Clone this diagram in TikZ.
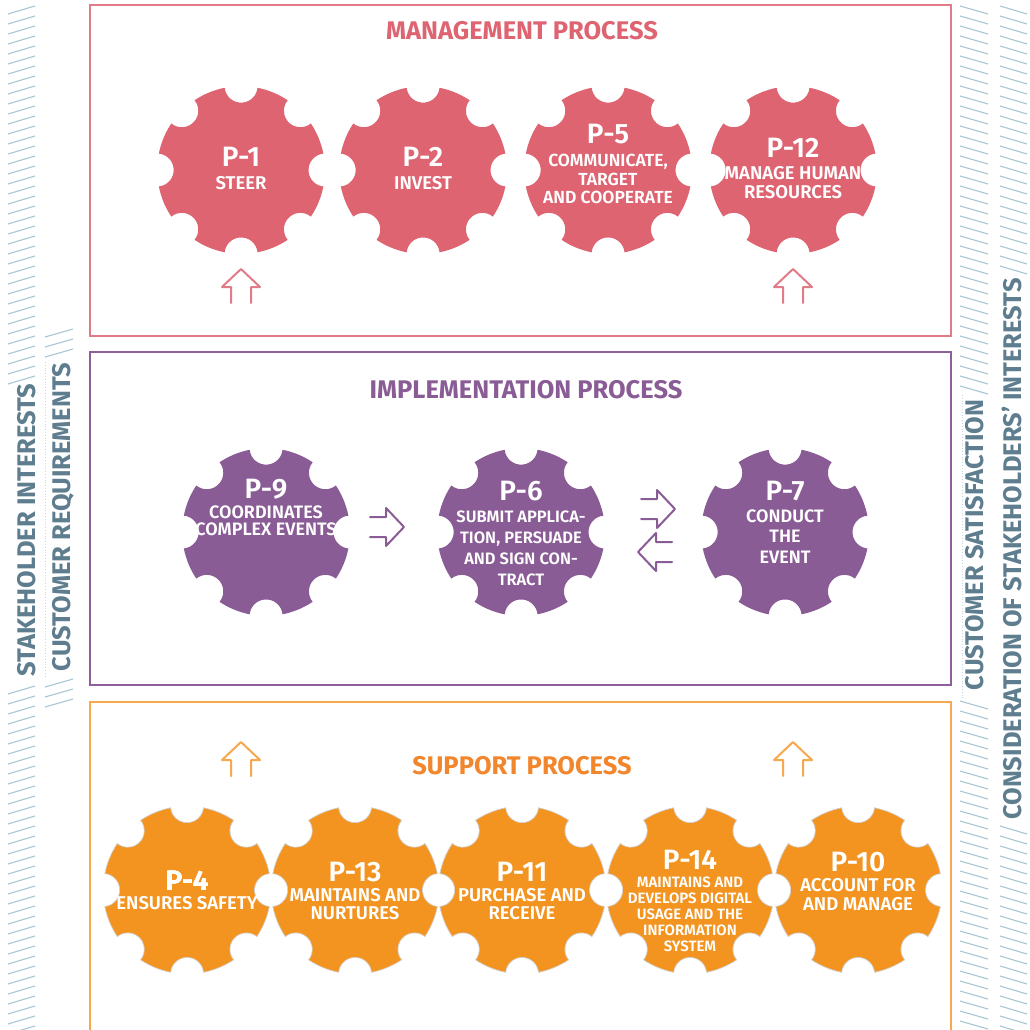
\documentclass[tikz,border=0pt]{standalone}
\usepackage{fontspec}
\setmainfont{Fira Sans}
\newfontfamily\gfont{Fira Sans SemiBold}
\definecolor{mgmt}{HTML}{DE6472}
\definecolor{mgmtline}{HTML}{E27B88}
\definecolor{impl}{HTML}{8A5C96}
\definecolor{implline}{HTML}{8E609B}
\definecolor{supp}{HTML}{F39420}
\definecolor{suppline}{HTML}{F5A84E}
\definecolor{supptitle}{HTML}{F2862C}
\definecolor{sidetext}{HTML}{5E7E8F}
\definecolor{hatch}{HTML}{A9C6D5}
\newcommand\gR{84}
\newcommand\gN{16.5}
\newcommand\gA{11.3}
\newcommand\mygear[3]{%
  \path[#3,shift={(#1,#2)}] ({\gA}:\gR)
    \foreach \t in {0,45,...,315}{
      arc[start angle={\t+\gA}, end angle={\t+45-\gA}, radius=\gR]
      arc[start angle={\t+45-90-\gA/2}, end angle={\t+45-270+\gA/2}, radius=\gN]
    } -- cycle;}
\tikzset{
  gnum/.style={text=white, font=\gfont\fontsize{28}{28}\selectfont, inner sep=0pt},
  gdesc/.style={text=white, font=\gfont\fontsize{18.5}{19}\selectfont, align=center, inner sep=0pt},
  ptitle/.style={font=\bfseries\fontsize{25.5}{27}\selectfont, inner sep=0pt},
  sidelabel/.style={font=\bfseries\fontsize{25.5}{27}\selectfont, text=sidetext, rotate=90, inner sep=0pt},
  hatchline/.style={draw=hatch, line width=1.1pt},
  procbox/.style={line width=1.3pt},
  openarrow/.pic={\draw[pic actions, line width=2pt, line join=round, line cap=round]
     (0,-10) -- (16,-10) -- (16,-19) -- (34,0) -- (16,19) -- (16,10) -- (0,10);}
}
\begin{document}
\begin{tikzpicture}[x=1pt,y=-1pt]
\useasboundingbox (0,0) rectangle (1030,1030);
\clip (0,0) rectangle (1030,1030);
\fill[white] (0,0) rectangle (1030,1030);

% side hatching
\foreach \y in {10,20,...,380} \draw[hatchline] (8,\y+4) -- (35,\y-4);
\foreach \y in {690,700,...,1030} \draw[hatchline] (8,\y+4) -- (35,\y-4);
\foreach \y in {333,343,353} \draw[hatchline] (45,\y+4) -- (73,\y-4);
\foreach \y in {683,693,703} \draw[hatchline] (45,\y+4) -- (73,\y-4);
\foreach \y in {10,20,...,390} \draw[hatchline] (960,\y-4) -- (988,\y+4);
\foreach \y in {705,715,...,1030} \draw[hatchline] (960,\y-4) -- (988,\y+4);
\foreach \y in {10,20,...,270} \draw[hatchline] (1000,\y-4) -- (1027,\y+4);
\foreach \y in {830,840,...,1030} \draw[hatchline] (1000,\y-4) -- (1027,\y+4);
\draw[hatch!70, dotted, line width=0.8pt] (45,362) -- (45,678);
\draw[hatch!70, dotted, line width=0.8pt] (962,395) -- (962,700);

\node[sidelabel] (sh) at (27,530) {STAKEHOLDER INTERESTS};
\node[sidelabel] (cr) at (63,517) {CUSTOMER REQUIREMENTS};
\node[sidelabel] (cs) at (975,545) {CUSTOMER SATISFACTION};
\node[sidelabel] (cons) at (1012,549) {CONSIDERATION OF STAKEHOLDERS’ INTERESTS};

% boxes
\draw[procbox, draw=mgmtline] (90,5) rectangle (951,336);
\draw[procbox, draw=implline] (90,352) rectangle (951,685);
\draw[procbox, draw=suppline] (90,702) rectangle (951,1045);

\node[ptitle, text=mgmt] (tm) at (522,31) {MANAGEMENT PROCESS};
\node[ptitle, text=impl] (ti) at (526,390) {IMPLEMENTATION PROCESS};
\node[ptitle, text=supptitle] (ts) at (522,766) {SUPPORT PROCESS};

% management gears
\mygear{241}{170}{fill=mgmt}
\mygear{423}{170}{fill=mgmt}
\mygear{608}{170}{fill=mgmt}
\mygear{793}{170}{fill=mgmt}
\node[gnum] (p1) at (241,157) {P-1};
\node[gdesc] (p1d) at (241,183) {STEER};
\node[gnum] (p2) at (423,157) {P-2};
\node[gdesc] (p2d) at (423,183) {INVEST};
\node[gnum] (p5) at (608,134) {P-5};
\node[gdesc, font=\gfont\fontsize{17.5}{18.5}\selectfont] (p5d) at (608,179) {COMMUNICATE,\\TARGET\\AND COOPERATE};
\node[gnum] (p12) at (793,148) {P-12};
\node[gdesc] (p12d) at (793,182.5) {MANAGE HUMAN\\RESOURCES};

\pic[draw=mgmtline, rotate=90] at (241,303) {openarrow};
\pic[draw=mgmtline, rotate=90] at (793,303) {openarrow};

% implementation gears
\mygear{266}{532}{fill=impl}
\mygear{521}{532}{fill=impl}
\mygear{785}{532}{fill=impl}
\node[gnum] (p9) at (266,489) {P-9};
\node[gdesc, font=\gfont\fontsize{18}{16.8}\selectfont] (p9d) at (266,521) {COORDINATES\\COMPLEX EVENTS};
\node[gnum] (p6) at (521,491) {P-6};
\node[gdesc, font=\gfont\fontsize{16.5}{21}\selectfont] (p6d) at (521,548) {SUBMIT APPLICA-\\TION, PERSUADE\\AND SIGN CON-\\TRACT};
\node[gnum] (p7) at (785,491) {P-7};
\node[gdesc, font=\gfont\fontsize{18}{20.5}\selectfont] (p7d) at (785,536.5) {CONDUCT\\THE\\EVENT};

\pic[draw=impl] at (370,527) {openarrow};
\pic[draw=impl] at (641,509) {openarrow};
\pic[draw=impl, rotate=180] at (672,552) {openarrow};

% support gears
\foreach \x in {187,355,522,690,858}
  \mygear{\x}{890}{fill=supp, draw=gray!35, line width=0.7pt}
\node[gnum] (p4) at (187,881) {P-4};
\node[gdesc] (p4d) at (187,903) {ENSURES SAFETY};
\node[gnum] (p13) at (355,872) {P-13};
\node[gdesc, font=\gfont\fontsize{18.5}{18.5}\selectfont] (p13d) at (355,904) {MAINTAINS AND\\NURTURES};
\node[gnum] (p11) at (522,872) {P-11};
\node[gdesc, font=\gfont\fontsize{18.5}{18.5}\selectfont] (p11d) at (522,904) {PURCHASE AND\\RECEIVE};
\node[gnum] (p14) at (690,859.5) {P-14};
\node[gdesc, font=\gfont\fontsize{15}{16}\selectfont] (p14d) at (690,914) {MAINTAINS AND\\DEVELOPS DIGITAL\\USAGE AND THE\\INFORMATION\\SYSTEM};
\node[gnum] (p10) at (858,862) {P-10};
\node[gdesc] (p10d) at (858,895) {ACCOUNT FOR\\AND MANAGE};

\pic[draw=suppline, rotate=90] at (241,776) {openarrow};
\pic[draw=suppline, rotate=90] at (793,776) {openarrow};
\end{tikzpicture}
\end{document}
